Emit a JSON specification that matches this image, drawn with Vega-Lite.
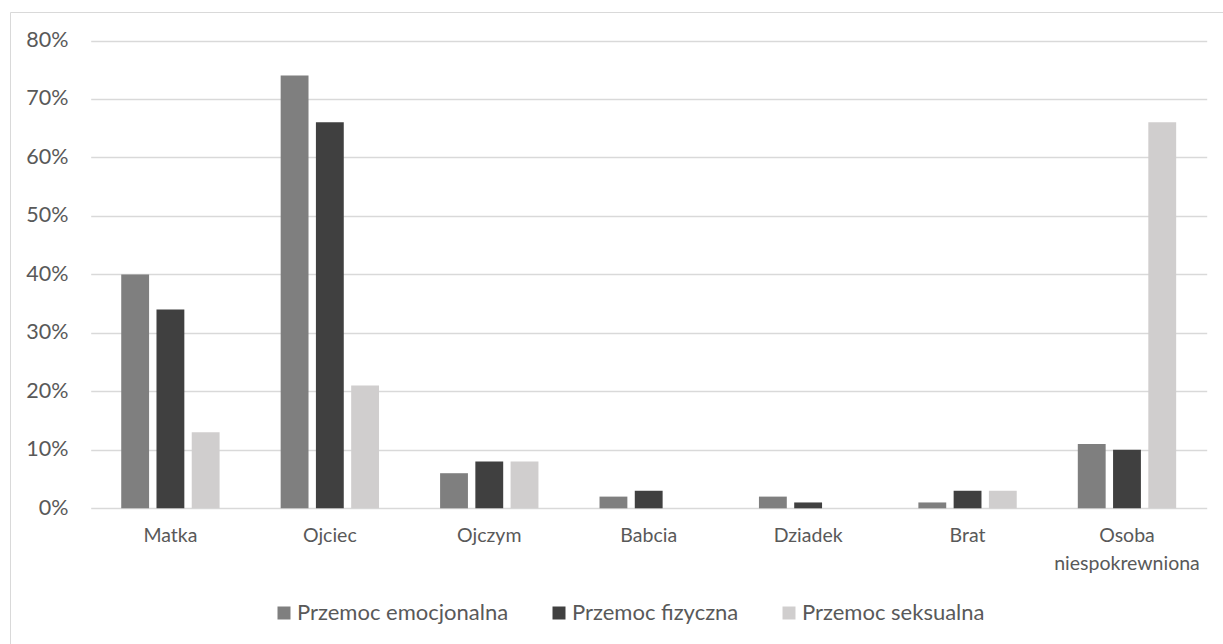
{
  "$schema": "https://vega.github.io/schema/vega-lite/v6.json",
  "width": 1213,
  "height": 632,
  "autosize": {"type": "none"},
  "padding": {"left": 10, "top": 12, "right": 0, "bottom": 0},
  "background": "white",
  "config": {
    "font": "Lato",
    "view": {"stroke": "#d9d9d9", "strokeWidth": 1},
    "axis": {"labelColor": "#595959", "labelFont": "Lato", "labelFontSize": 19.5}
  },
  "data": {
    "values": [
      {"osoba": "Matka", "rodzaj": "Przemoc emocjonalna", "udzial": 0.40},
      {"osoba": "Matka", "rodzaj": "Przemoc fizyczna", "udzial": 0.34},
      {"osoba": "Matka", "rodzaj": "Przemoc seksualna", "udzial": 0.13},
      {"osoba": "Ojciec", "rodzaj": "Przemoc emocjonalna", "udzial": 0.74},
      {"osoba": "Ojciec", "rodzaj": "Przemoc fizyczna", "udzial": 0.66},
      {"osoba": "Ojciec", "rodzaj": "Przemoc seksualna", "udzial": 0.21},
      {"osoba": "Ojczym", "rodzaj": "Przemoc emocjonalna", "udzial": 0.06},
      {"osoba": "Ojczym", "rodzaj": "Przemoc fizyczna", "udzial": 0.08},
      {"osoba": "Ojczym", "rodzaj": "Przemoc seksualna", "udzial": 0.08},
      {"osoba": "Babcia", "rodzaj": "Przemoc emocjonalna", "udzial": 0.02},
      {"osoba": "Babcia", "rodzaj": "Przemoc fizyczna", "udzial": 0.03},
      {"osoba": "Babcia", "rodzaj": "Przemoc seksualna", "udzial": 0.0},
      {"osoba": "Dziadek", "rodzaj": "Przemoc emocjonalna", "udzial": 0.02},
      {"osoba": "Dziadek", "rodzaj": "Przemoc fizyczna", "udzial": 0.01},
      {"osoba": "Dziadek", "rodzaj": "Przemoc seksualna", "udzial": 0.0},
      {"osoba": "Brat", "rodzaj": "Przemoc emocjonalna", "udzial": 0.01},
      {"osoba": "Brat", "rodzaj": "Przemoc fizyczna", "udzial": 0.03},
      {"osoba": "Brat", "rodzaj": "Przemoc seksualna", "udzial": 0.03},
      {"osoba": "Osoba niespokrewniona", "rodzaj": "Przemoc emocjonalna", "udzial": 0.11},
      {"osoba": "Osoba niespokrewniona", "rodzaj": "Przemoc fizyczna", "udzial": 0.10},
      {"osoba": "Osoba niespokrewniona", "rodzaj": "Przemoc seksualna", "udzial": 0.66}
    ]
  },
  "mark": {"type": "bar"},
  "encoding": {
    "x": {
      "field": "osoba",
      "type": "nominal",
      "sort": null,
      "title": null,
      "scale": {"range": [80.7, 1196.7], "paddingInner": 0.383, "paddingOuter": 0.1915},
      "axis": {
        "orient": "bottom",
        "offset": -135.7,
        "domain": false,
        "ticks": false,
        "grid": false,
        "labelAngle": 0,
        "labelPadding": 18,
        "labelLineHeight": 28,
        "labelExpr": "datum.label == 'Osoba niespokrewniona' ? ['Osoba', 'niespokrewniona'] : datum.label"
      }
    },
    "xOffset": {
      "field": "rodzaj",
      "type": "nominal",
      "sort": ["Przemoc emocjonalna", "Przemoc fizyczna", "Przemoc seksualna"],
      "scale": {"paddingInner": 0.21, "paddingOuter": 0}
    },
    "y": {
      "field": "udzial",
      "type": "quantitative",
      "title": null,
      "scale": {"domain": [0, 0.8], "range": [496.3, 28.5], "nice": false},
      "axis": {
        "orient": "left",
        "offset": -80.7,
        "values": [0, 0.1, 0.2, 0.3, 0.4, 0.5, 0.6, 0.7, 0.8],
        "format": ".0%",
        "domain": false,
        "ticks": false,
        "grid": true,
        "gridColor": "#d9d9d9",
        "gridWidth": 1.4,
        "labelFontSize": 21.5,
        "labelPadding": 22.7
      }
    },
    "color": {
      "field": "rodzaj",
      "type": "nominal",
      "title": null,
      "scale": {
        "domain": ["Przemoc emocjonalna", "Przemoc fizyczna", "Przemoc seksualna"],
        "range": ["#7f7f7f", "#404040", "#d0cece"]
      },
      "legend": {
        "orient": "none",
        "direction": "horizontal",
        "legendX": 263,
        "legendY": 590,
        "symbolType": "square",
        "symbolSize": 169,
        "symbolStrokeWidth": 0,
        "labelFontSize": 22,
        "labelColor": "#595959",
        "labelFont": "Lato",
        "labelOffset": 2,
        "columnPadding": 39,
        "labelLimit": 400
      }
    }
  }
}
